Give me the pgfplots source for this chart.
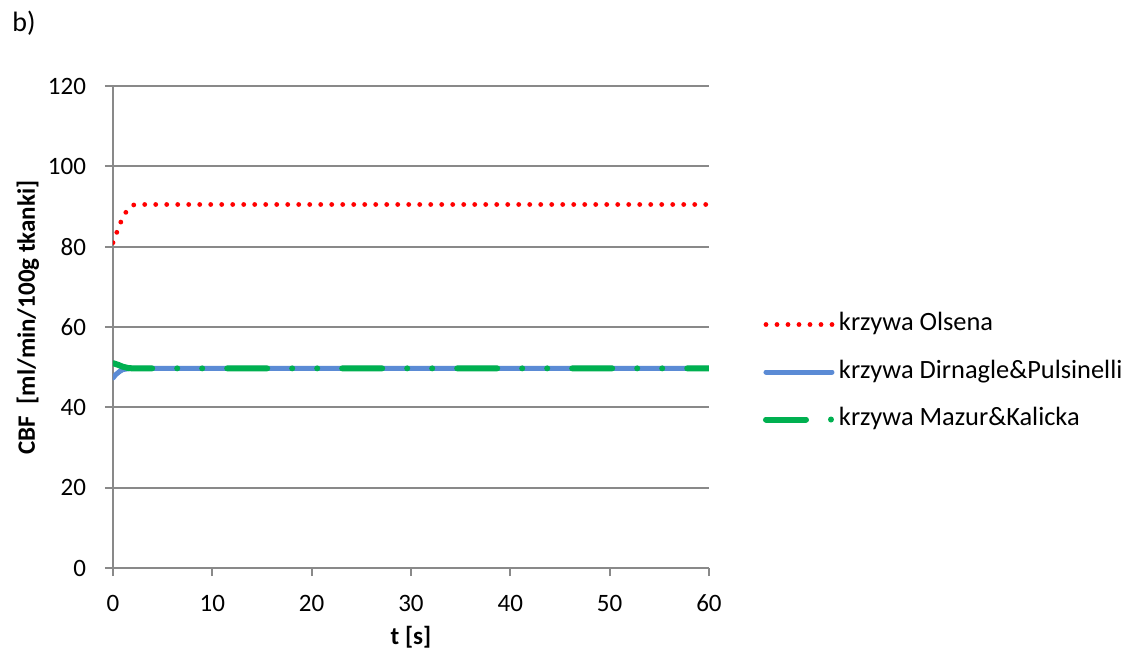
\documentclass[border=0pt]{standalone}
\usepackage{fontspec}
\setmainfont{Carlito}
\usepackage{pgfplots}
\pgfplotsset{compat=1.18}
\definecolor{gridgray}{HTML}{898989}
\definecolor{olsred}{HTML}{FF0000}
\definecolor{dpblue}{HTML}{5B8BD5}
\definecolor{mkgreen}{HTML}{00B050}
\begin{document}
\begin{tikzpicture}[font=\fontsize{12.5}{15}\selectfont]
\path[use as bounding box] (-56.5pt,-46pt) rectangle (511.5pt,284pt);
\begin{axis}[
  scale only axis,
  width=298pt, height=241pt,
  at={(0pt,0pt)}, anchor=south west,
  xmin=0, xmax=60, ymin=0, ymax=120,
  xtick={0,10,...,60}, ytick={0,20,...,120},
  axis lines*=left,
  axis line style={draw=gridgray, line width=1pt},
  ymajorgrids,
  grid style={draw=gridgray, line width=1pt},
  tick align=outside,
  major tick length=4pt,
  tick style={draw=gridgray, line width=1pt},
  /pgf/number format/assume math mode=true,
  ticklabel style={font=\fontsize{12.5}{15}\selectfont},
  xticklabel style={yshift=-6pt},
  yticklabel style={xshift=-6pt},
  xlabel={\textbf{t [s]}},
  ylabel={\textbf{CBF\ \ [ml/min/100g tkanki]}},
  every axis x label/.style={at={(axis description cs:0.5,-0.143)}, anchor=center},
  every axis y label/.style={at={(axis description cs:-0.1309,0.52)}, rotate=90, anchor=base},
  legend style={draw=none, fill=none, inner sep=0pt, outer sep=0pt,
    at={(axis description cs:1.0906,0.4066)}, anchor=west,
    legend cell align=left,
    row sep=11.75pt,
    nodes={inner xsep=2pt, inner ysep=0pt, text height=9pt, text depth=3pt},
    font=\fontsize{13.2}{15.5}\selectfont},
  legend image code/.code={\draw[#1] (0pt,0pt) -- (33pt,0pt);},
]
\addplot[olsred, line width=2.4pt, line cap=round, dash pattern=on 0pt off 5.5pt]
  coordinates {(0,81) (0.3,83) (0.6,85) (0.9,86.8) (1.2,88.2) (1.5,89.3) (1.8,90) (2.1,90.4) (2.5,90.5) (60,90.5)};
\addlegendentry{krzywa Olsena}
\addplot[dpblue, line width=2.5pt, line cap=round]
  coordinates {(0,47.3) (0.3,48.2) (0.7,49) (1,49.4) (1.5,49.6) (2,49.7) (60,49.7)};
\addlegendentry{krzywa Dirnagle\&Pulsinelli}
\addplot[mkgreen, line width=3pt, line cap=round, dash pattern=on 20pt off 12.5pt on 0pt off 12.5pt on 0pt off 12.5pt]
  coordinates {(0,51) (0.5,50.6) (1,50.1) (1.5,49.8) (2,49.7) (60,49.7)};
\addlegendentry{krzywa Mazur\&Kalicka}
\end{axis}
\node[anchor=base west, inner sep=0pt, font=\fontsize{14}{16}\selectfont] at (-50.5pt,268pt) {b)};
\end{tikzpicture}
\end{document}
